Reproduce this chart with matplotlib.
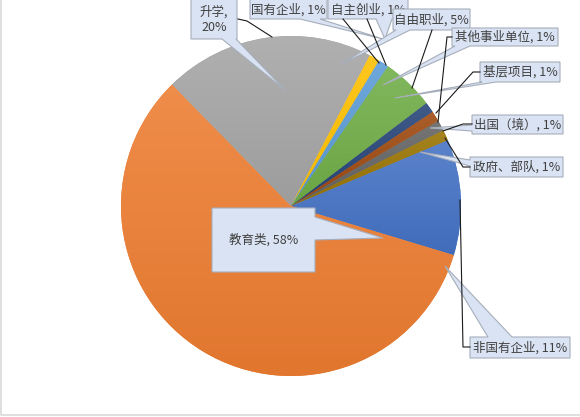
import matplotlib.pyplot as plt
import numpy as np
from matplotlib.patches import Polygon
from matplotlib.colors import to_rgb

plt.rcParams['font.family'] = ['Noto Sans CJK SC', 'DejaVu Sans']

# data (Excel series order, first slice = 非国有企业)
labels = ['非国有企业', '教育类', '升学', '国有企业', '自主创业', '自由职业',
          '其他事业单位', '基层项目', '出国（境）', '政府、部队']
values = [11, 58, 20, 1, 1, 5, 1, 1, 1, 1]
colors = ['#4472C4', '#ED7D31', '#A5A5A5', '#FFC000', '#5B9BD5', '#70AD47',
          '#264478', '#9E480E', '#636363', '#997300']

W, H = 580, 417
cx, cy, R = 291, 206, 170

fig = plt.figure(figsize=(W / 100, H / 100), dpi=100)
ax = fig.add_axes([0, 0, 1, 1])
ax.set_xlim(0, W)
ax.set_ylim(H, 0)   # pixel coords, y down
ax.axis('off')

# y axis inverted -> counterclock in data = clockwise on screen
wedges, _ = ax.pie(values, colors=colors, center=(cx, cy), radius=R,
                   startangle=-22.8, counterclock=True,
                   wedgeprops=dict(linewidth=0))

# soft top-light / bottom-dark gradient like the Excel fill
for w, c in zip(wedges, colors):
    base = np.array(to_rgb(c))
    light = base + (1 - base) * 0.12
    dark = base * 0.95
    t = np.linspace(0, 1, 64)[:, None]
    grad = (light[None, :] * (1 - t) + dark[None, :] * t)[:, None, :]
    bb = w.get_path().get_extents()
    im = ax.imshow(grad, extent=(bb.x0, bb.x1, bb.y1, bb.y0), origin='upper',
                   aspect='auto', interpolation='bilinear', zorder=1.5)
    im.set_clip_path(w)

ax.set_xlim(0, W)
ax.set_ylim(H, 0)

# label layout: box (x0, x1, y0, y1), pointer side, pointer base, pointer tip, leader line
layout = {
    '教育类': ((212, 315, 208, 272), 'right', (217, 240), (383, 238), None),
    '升学': ((191, 237, -4, 39), 'bottom', (222, 236), (285, 90),
            [(238, 19), (247, 21), (272, 37)]),
    '国有企业': ((250, 327, -4, 19), 'bottom', (300, 320), (383, 39),
             [(343, 19), (379, 63)]),
    '自主创业': ((328, 408, -4, 19), 'bottom', (376, 392), (385, 39),
             [(367, 19), (386, 65)]),
    '自由职业': ((393, 470, 9, 30), 'bottom', (396, 410), (340, 65),
             [(432, 30), (412, 88)]),
    '其他事业单位': ((452, 558, 28, 46), 'bottom', (455, 470), (383, 85),
               [(452, 37), (447, 37), (438, 122)]),
    '基层项目': ((480, 560, 62, 82), 'bottom', (482, 496), (395, 98),
             [(480, 72), (473, 72), (436, 113)]),
    '出国（境）': ((472, 563, 115, 134), 'left', (125, 131), (430, 128),
              [(472, 124), (463, 124), (443, 131)]),
    '政府、部队': ((470, 563, 157, 177), 'left', (160, 166), (420, 152),
              [(470, 167), (463, 167), (445, 138)]),
    '非国有企业': ((470, 570, 337, 358), 'top', (488, 512), (445, 266),
              [(470, 347), (463, 347), (460, 200)]),
}
order = ['教育类', '升学', '非国有企业', '国有企业', '自主创业', '自由职业',
         '其他事业单位', '基层项目', '出国（境）', '政府、部队']


def callout_poly(box, side, base, tip):
    x0, x1, y0, y1 = box
    b0, b1 = base
    pts = [(x0, y0)]
    if side == 'top':
        pts += [(b0, y0), tip, (b1, y0)]
    pts += [(x1, y0)]
    if side == 'right':
        pts += [(x1, b0), tip, (x1, b1)]
    pts += [(x1, y1)]
    if side == 'bottom':
        pts += [(b1, y1), tip, (b0, y1)]
    pts += [(x0, y1)]
    if side == 'left':
        pts += [(x0, b1), tip, (x0, b0)]
    return pts


for i, name in enumerate(order):
    box, side, base, tip, leader = layout[name]
    v = values[labels.index(name)]
    z = 4 + i * 0.1
    ax.add_patch(Polygon(callout_poly(box, side, base, tip), closed=True,
                         fc='#DAE3F3', ec='#A6AEBB', lw=0.8, zorder=z))
    txt = f'{name},\n{v}%' if name == '升学' else f'{name}, {v}%'
    ax.text((box[0] + box[1]) / 2, (max(box[2], 0) + box[3]) / 2, txt,
            ha='center', va='center', fontsize=9, color='#404040',
            linespacing=1.25, zorder=z + 0.05)
    if leader:
        xs, ys = zip(*leader)
        ax.plot(xs, ys, color='#1a1a1a', lw=0.8, zorder=10)

# chart frame edges visible at left / bottom
ax.plot([1, 1, W], [0, 415, 415], color='#D9D9D9', lw=1.2, zorder=11)

fig.savefig('out.png', dpi=100)
